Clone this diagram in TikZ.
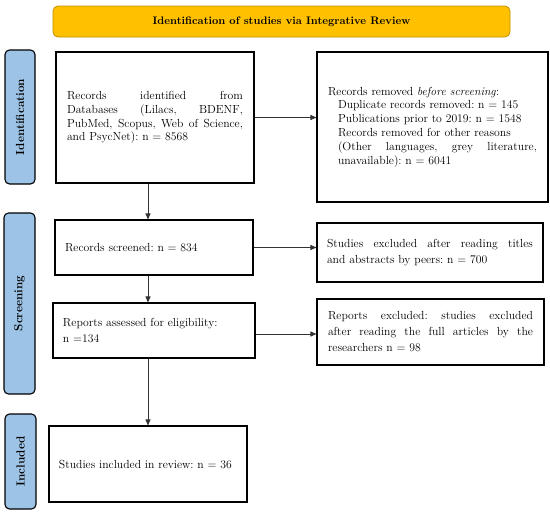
\documentclass[tikz,border=0pt]{standalone}
\usetikzlibrary{arrows.meta}
\definecolor{titlefill}{HTML}{FFC000}
\definecolor{titledraw}{HTML}{BF9000}
\definecolor{sidefill}{HTML}{9DC3E6}
\definecolor{connc}{HTML}{333333}
\frenchspacing
\begin{document}
\begin{tikzpicture}[x=1pt,y=-1pt,
  titlebox/.style={draw=titledraw, line width=0.8pt, fill=titlefill, rounded corners=5pt, inner sep=0pt, font=\bfseries\fontsize{10.9}{13}\selectfont},
  side/.style={draw=black, line width=1.1pt, fill=sidefill, rounded corners=4.5pt, inner sep=0pt, font=\bfseries\fontsize{11.7}{13}\selectfont},
  box/.style={draw=black, line width=1.1pt, fill=white, inner sep=0pt, font=\fontsize{11.7}{13.8}\selectfont},
  lbox/.style={box, font=\fontsize{11.7}{16}\selectfont},
  conn/.style={line width=0.75pt, draw=connc, -{Triangle[length=6pt,width=5pt]}}]
\useasboundingbox (0,0) rectangle (550,515);
\fill[white] (0,0) rectangle (550,515);

\node[titlebox, minimum width=457, minimum height=31] (title) at (281.5,21.5) {Identification of studies via Integrative Review};

\node[side, rotate=90, minimum width=134, minimum height=30] (sid) at (20,117) {Identification};
\node[side, rotate=90, minimum width=181, minimum height=31] (sscr) at (19.5,303.5) {Screening};
\node[side, rotate=90, minimum width=95, minimum height=31] (sinc) at (20.5,461.5) {Included};

\node[box, minimum width=198, minimum height=131] (ident) at (155,117.5) {\begin{minipage}{176pt}\frenchspacing
Records identified from\linebreak Databases (Lilacs, BDENF,\linebreak PubMed, Scopus, Web of Science,\linebreak and PsycNet): n = 8568\end{minipage}};

\node[box, minimum width=231, minimum height=150] (removed) at (432.5,127) {\begin{minipage}{209pt}\frenchspacing\hangindent=10pt\hangafter=1
Records removed \textit{before screening}:\\
Duplicate records removed: n = 145\\
Publications prior to 2019: n = 1548\\
Records removed for other reasons\\
(Other languages, grey literature,\linebreak unavailable): n = 6041\end{minipage}};

\node[box, minimum width=198, minimum height=55] (screened) at (154,247.5) {\begin{minipage}{178pt}\frenchspacing
Records screened: n = 834\end{minipage}};

\node[lbox, minimum width=226, minimum height=59] (excl1) at (430,252.5) {\begin{minipage}{206pt}\frenchspacing
Studies excluded after reading titles\linebreak and abstracts by peers: n = 700\end{minipage}};

\node[lbox, minimum width=202, minimum height=55] (assessed) at (154,330.5) {\begin{minipage}{182pt}\frenchspacing
Reports assessed for eligibility:\\ n =134\end{minipage}};

\node[lbox, minimum width=227, minimum height=66] (excl2) at (430.5,332) {\begin{minipage}{205pt}\frenchspacing
Reports excluded: studies excluded\linebreak after reading the full articles by the\linebreak researchers n = 98\end{minipage}};

\node[box, minimum width=198, minimum height=76] (included) at (148,464) {\begin{minipage}{178pt}\frenchspacing
Studies included in review: n = 36\end{minipage}};

\coordinate (vx) at (148,0);
\coordinate (ay) at (0,334);
\draw[conn] (ident.south -| vx) -- (screened.north -| vx);
\draw[conn] (screened.south -| vx) -- (assessed.north -| vx);
\draw[conn] (assessed.south -| vx) -- (included.north -| vx);
\draw[conn] (ident.east) -- (ident.east -| removed.west);
\draw[conn] (screened.east) -- (screened.east -| excl1.west);
\draw[conn] (assessed.east |- ay) -- (excl2.west |- ay);
\end{tikzpicture}
\end{document}
